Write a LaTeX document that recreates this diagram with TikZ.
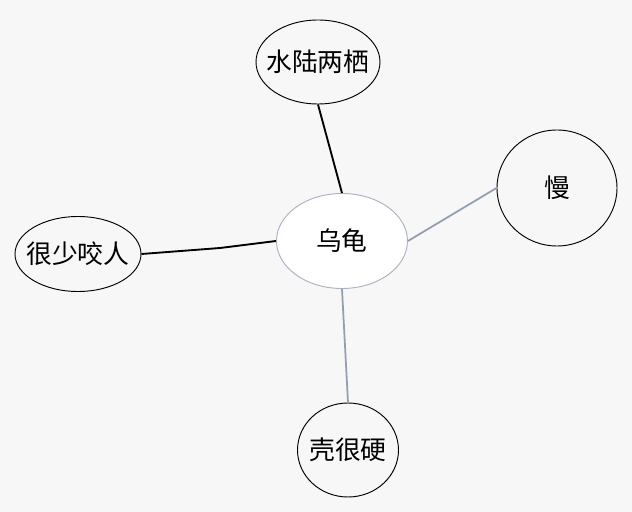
\documentclass[tikz,border=0pt]{standalone}
\usepackage{fontspec}
\setmainfont{Noto Sans CJK SC}
\usetikzlibrary{shapes}
\usetikzlibrary{calc}

\definecolor{paper}{RGB}{247,247,248}
\definecolor{softline}{RGB}{148,157,178}
\definecolor{softrim}{RGB}{172,178,194}
\newcommand{\lbl}[1]{\makebox[0pt]{#1}}

\begin{document}
\begin{tikzpicture}
        \tikzstyle{every node}=[draw, ellipse, inner sep=0pt, line width=0.8pt, font=\fontsize{22}{26}\selectfont]
        \fill[paper] (-10.26,7.23) rectangle (8.7,-8.13);
        \useasboundingbox (-10.26,7.23) rectangle (8.7,-8.13);
        \node[fill=white, draw=softrim, minimum width=3.93cm, minimum height=2.85cm] (turtle) at (0,0) {\lbl{乌龟}};
        \node[minimum width=3.72cm, minimum height=2.52cm] (amphibious) at ($ (turtle) + (-0.72,5.37) $) {\lbl{水陆两栖}};
        \node[minimum width=3.6cm, minimum height=3.48cm] (slow) at ($ (turtle) + (6.45,1.59) $) {\lbl{慢}};
        \node[minimum width=3.78cm, minimum height=2.25cm] (bite) at ($ (turtle) + (-7.92,-0.39) $) {\lbl{很少咬人}};
        \node[minimum width=3.03cm, minimum height=2.82cm] (shell) at ($ (turtle) + (0.18,-6.27) $) {\lbl{壳很硬}};
        \coordinate (kink) at ($ (turtle) + (-3.66,-0.21) $);
        \path [draw,line width=1.6pt] (amphibious.south) -- (turtle.north);
        \path [draw,line width=1.6pt] (bite.east) -- (kink) -- (turtle.west);
        \path [draw,line width=1.5pt,softline] (turtle.east) -- (slow.west);
        \path [draw,line width=1.5pt,softline] (turtle.south) -- (shell.north);
      \end{tikzpicture}
\end{document}
